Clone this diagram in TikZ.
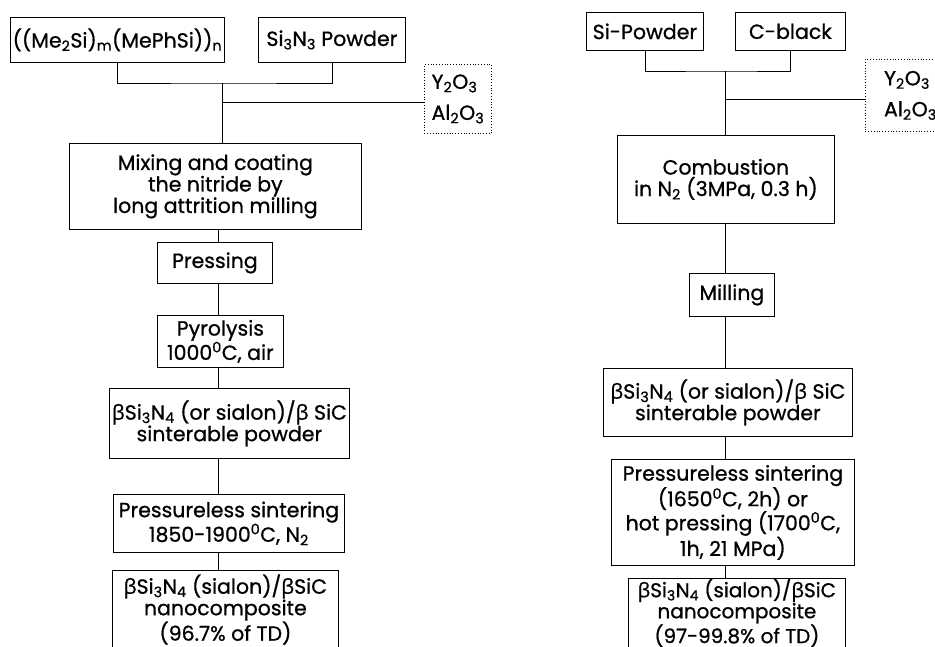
\documentclass[tikz,border=0pt]{standalone}
\usepackage{fontspec}
\setmainfont{Poppins}[UprightFeatures={FakeBold=0.8}]
\newfontfamily\grkfont{Open Sans}[UprightFeatures={FakeBold=0.8}]
\newcommand{\bet}{{\grkfont β}}
\newcommand{\dgr}{\textsuperscript{0}}
\newcommand{\sub}[1]{\textsubscript{#1}}

\begin{document}
\begin{tikzpicture}[x=1pt, y=-1pt,
  every node/.style={font=\fontsize{20.5}{21.5}\selectfont},
  box/.style={draw, line width=0.8pt, anchor=north west, align=center, inner sep=1pt},
  addbox/.style={draw, dotted, line width=0.8pt, anchor=north west, align=left, inner sep=5pt,
    font=\fontsize{20.5}{31}\selectfont},
  link/.style={line width=0.8pt}]
  \clip (0,0) rectangle (935,647);

  % left route: polymer precursor
  \node[box, minimum width=214, minimum height=45] (poly) at (10,17) {((Me\sub{2}Si)\sub{m}(MePhSi))\sub{n}};
  \node[box, minimum width=147, minimum height=45] (nit) at (258,17) {Si\sub{3}N\sub{3} Powder};
  \node[addbox, minimum width=67, minimum height=69] (addl) at (424,64) {Y\sub{2}O\sub{3}\\Al\sub{2}O\sub{3}};
  \node[box, minimum width=292, minimum height=86] (mix) at (69,143) {Mixing and coating\\the nitride by\\long attrition milling};
  \node[box, minimum width=115, minimum height=41] (press) at (157,242) {Pressing};
  \node[box, minimum width=126, minimum height=52] (pyro) at (157,315) {Pyrolysis\\1000\dgr C, air};
  \node[box, minimum width=240, minimum height=70] (powl) at (109,388) {\bet Si\sub{3}N\sub{4} (or sialon)/\bet\ SiC\\sinterable powder};
  \node[box, minimum width=231, minimum height=58] (sintl) at (113,494) {Pressureless sintering\\1850-1900\dgr C, N\sub{2}};
  \node[box, minimum width=226, inner ysep=4pt, text depth=40pt] (compl) at (112,570) {\bet Si\sub{3}N\sub{4} (sialon)/\bet SiC\\nanocomposite\\(96.7\% of TD)};

  \coordinate (jl) at (222,83);
  \coordinate (al) at (222,102);
  \coordinate (tl) at (218,0);
  \draw[link] (poly.south) |- (jl) -| (nit.south);
  \draw[link] (jl) -- (jl |- mix.north);
  \draw[link] (al) -- (al -| addl.west);
  \draw[link] (mix.south -| tl) -- (press.north -| tl);
  \draw[link] (press.south -| tl) -- (pyro.north -| tl);
  \draw[link] (pyro.south -| tl) -- (powl.north -| tl);
  \draw[link] (powl.south -| tl) -- (sintl.north -| tl);
  \draw[link] (sintl.south -| tl) -- (compl.north -| tl);

  % right route: combustion synthesis
  \node[box, minimum width=117, minimum height=38] (si) at (586,12) {Si-Powder};
  \node[box, minimum width=110, minimum height=38] (cb) at (735,12) {C-black};
  \node[addbox, minimum width=90, minimum height=72, inner xsep=6pt] (addr) at (865,59) {Y\sub{2}O\sub{3}\\Al\sub{2}O\sub{3}};
  \node[box, minimum width=217, minimum height=88] (comb) at (617,135) {Combustion\\in N\sub{2} (3MPa, 0.3 h)};
  \node[box, minimum width=85, minimum height=43] (mill) at (689,273) {Milling};
  \node[box, minimum width=249, minimum height=68] (powr) at (603,368) {\bet Si\sub{3}N\sub{4} (or sialon)/\bet\ SiC\\sinterable powder};
  \node[box, minimum width=243, minimum height=106] (sintr) at (611,459) {Pressureless sintering\\(1650\dgr C, 2h) or\\hot pressing (1700\dgr C,\\1h, 21 MPa)};
  \node[box, minimum width=217, inner ysep=0pt, text depth=40pt,
    font=\fontsize{20}{18.5}\selectfont] (compr) at (628,578) {\bet Si\sub{3}N\sub{4} (sialon)/\bet SiC\\nanocomposite\\(97-99.8\% of TD)};

  \coordinate (jr) at (725,71);
  \coordinate (ar) at (725,99);
  \coordinate (tr) at (725,0);
  \draw[link] (si.south) |- (jr) -| (cb.south);
  \draw[link] (jr) -- (jr |- comb.north);
  \draw[link] (ar) -- (ar -| addr.west);
  \draw[link] (comb.south -| tr) -- (mill.north -| tr);
  \draw[link] (mill.south -| tr) -- (powr.north -| tr);
  \draw[link] (powr.south -| tr) -- (sintr.north -| tr);
  \draw[link] (sintr.south -| tr) -- (compr.north -| tr);
\end{tikzpicture}
\end{document}
